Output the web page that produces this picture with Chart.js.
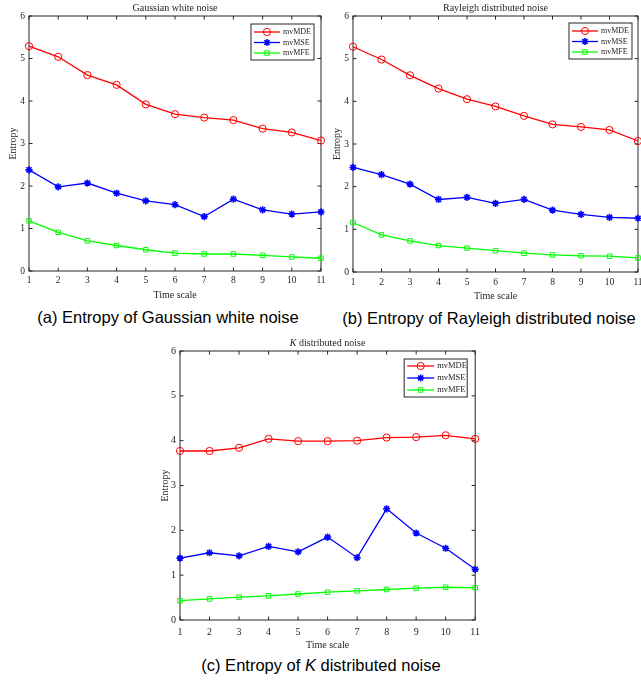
<!DOCTYPE html>
<html>
<head>
<meta charset="utf-8">
<script src="https://cdn.jsdelivr.net/npm/chart.js@4.4.1/dist/chart.umd.min.js"></script>
<style>
  body { margin: 0; background: #fff; width: 641px; height: 681px; overflow: hidden; position: relative; }
  canvas { position: absolute; }
  .caption {
    position: absolute; width: 400px; text-align: center; white-space: nowrap;
    font-family: "Liberation Sans", Arial, Helvetica, sans-serif; font-size: 16.5px; line-height: 20px; color: #000;
  }
</style>
</head>
<body>
<canvas id="gauss" width="330" height="302" style="left:0;top:0"></canvas>
<canvas id="rayleigh" width="330" height="302" style="left:324px;top:0"></canvas>
<canvas id="kdist" width="336" height="316" style="left:150px;top:335px"></canvas>
<div class="caption" style="left:-32px;top:307px">(a) Entropy of Gaussian white noise</div>
<div class="caption" style="left:289px;top:308px">(b) Entropy of Rayleigh distributed noise</div>
<div class="caption" style="left:121px;top:655px">(c) Entropy of <i>K</i> distributed noise</div>
<script>
const timeScale = ['1', '2', '3', '4', '5', '6', '7', '8', '9', '10', '11']
const seriesNames = ['mvMDE', 'mvMSE', 'mvMFE']

const gaussMDE = [5.29, 5.04, 4.61, 4.38, 3.92, 3.69, 3.61, 3.55, 3.35, 3.26, 3.07]
const gaussMSE = [2.38, 1.98, 2.07, 1.83, 1.65, 1.56, 1.28, 1.69, 1.44, 1.34, 1.39]
const gaussMFE = [1.18, 0.91, 0.71, 0.60, 0.50, 0.42, 0.40, 0.40, 0.37, 0.33, 0.30]

const rayMDE = [5.28, 4.98, 4.61, 4.30, 4.05, 3.88, 3.66, 3.46, 3.40, 3.33, 3.07]
const rayMSE = [2.45, 2.28, 2.06, 1.70, 1.75, 1.61, 1.70, 1.45, 1.35, 1.28, 1.26]
const rayMFE = [1.16, 0.87, 0.73, 0.62, 0.56, 0.50, 0.44, 0.40, 0.38, 0.37, 0.33]

const kMDE = [3.77, 3.77, 3.84, 4.04, 3.99, 3.99, 4.00, 4.07, 4.08, 4.12, 4.04]
const kMSE = [1.38, 1.50, 1.43, 1.64, 1.52, 1.85, 1.39, 2.48, 1.94, 1.60, 1.13]
const kMFE = [0.43, 0.47, 0.51, 0.54, 0.58, 0.62, 0.65, 0.68, 0.71, 0.73, 0.72]

const yMin = 0
const yMax = 6

const serif = '"Liberation Serif", "Times New Roman", serif'
const ink = '#262626'
const lineColors = ['#ff0000', '#0000ff', '#00ff00']
const markers = ['circle', 'star', 'rect']
const markerSize = [3.6, 3.6, 3.2]

// matlab style box: frame on all four sides, ticks pointing inwards
const axisBox = {
  id: 'axisBox',
  beforeDatasetsDraw(chart) {
    const {ctx, chartArea: a, scales: {x, y}} = chart
    const len = 3.5
    ctx.save()
    ctx.strokeStyle = ink
    ctx.lineWidth = 1
    ctx.strokeRect(a.left, a.top, a.right - a.left, a.bottom - a.top)
    ctx.beginPath()
    x.ticks.forEach((t, i) => {
      const px = x.getPixelForTick(i)
      ctx.moveTo(px, a.bottom); ctx.lineTo(px, a.bottom - len)
      ctx.moveTo(px, a.top); ctx.lineTo(px, a.top + len)
    })
    y.ticks.forEach((t, i) => {
      const py = y.getPixelForTick(i)
      ctx.moveTo(a.left, py); ctx.lineTo(a.left + len, py)
      ctx.moveTo(a.right, py); ctx.lineTo(a.right - len, py)
    })
    ctx.stroke()
    ctx.restore()
  }
}

// title above the axes, pieces can be italic
const panelTitle = {
  id: 'panelTitle',
  afterDraw(chart, args, opts) {
    const {ctx, chartArea: a} = chart
    ctx.save()
    ctx.fillStyle = ink
    ctx.textBaseline = 'middle'
    const fonts = opts.parts.map(p => (p.italic ? 'italic ' : '') + opts.size + 'px ' + serif)
    let total = 0
    const widths = opts.parts.map((p, i) => {
      ctx.font = fonts[i]
      const w = ctx.measureText(p.text).width
      total += w
      return w
    })
    let x = (a.left + a.right) / 2 - total / 2
    opts.parts.forEach((p, i) => {
      ctx.font = fonts[i]
      ctx.fillText(p.text, x, opts.y)
      x += widths[i]
    })
    ctx.restore()
  }
}

// boxed legend in the upper right corner of the axes
const boxLegend = {
  id: 'boxLegend',
  afterDraw(chart, args, o) {
    const {ctx, chartArea: a} = chart
    const left = a.right - o.dx - o.w
    const top = a.top + o.dy
    ctx.save()
    ctx.fillStyle = '#fff'
    ctx.fillRect(left, top, o.w, o.h)
    ctx.strokeStyle = ink
    ctx.lineWidth = 1
    ctx.strokeRect(left, top, o.w, o.h)
    ctx.font = o.font + 'px ' + serif
    ctx.textBaseline = 'middle'
    chart.data.datasets.forEach((ds, i) => {
      const ry = top + o.first + i * o.row
      ctx.strokeStyle = ds.borderColor
      ctx.lineWidth = ds.borderWidth
      ctx.beginPath()
      ctx.moveTo(left + o.line0, ry)
      ctx.lineTo(left + o.line1, ry)
      ctx.stroke()
      ctx.fillStyle = ds.pointBackgroundColor
      ctx.strokeStyle = ds.borderColor
      ctx.lineWidth = ds.pointBorderWidth
      Chart.helpers.drawPoint(ctx, {
        pointStyle: ds.pointStyle, radius: ds.pointRadius, rotation: 0, borderWidth: ds.pointBorderWidth
      }, left + (o.line0 + o.line1) / 2, ry)
      ctx.fillStyle = ink
      ctx.fillText(ds.label, left + o.text, ry)
    })
    ctx.restore()
  }
}

function drawPanel(id, titleParts, series, p) {
  const tickFont = {family: serif, size: p.tickSize}
  const titleFont = {family: serif, size: 10}
  new Chart(document.getElementById(id), {
    type: 'line',
    data: {
      labels: timeScale,
      datasets: series.map((vals, i) => ({
        label: seriesNames[i],
        data: vals,
        borderColor: lineColors[i],
        borderWidth: 1.3,
        pointStyle: markers[i],
        pointRadius: markerSize[i],
        pointBorderWidth: i === 1 ? 1.6 : 1,
        pointBackgroundColor: i === 1 ? lineColors[i] : 'rgba(0,0,0,0)',
        pointBorderColor: lineColors[i],
        tension: 0,
        clip: false
      }))
    },
    options: {
      responsive: false,
      animation: false,
      layout: {padding: {top: 16, left: 0, right: p.right, bottom: 0}},
      plugins: {
        legend: {display: false},
        tooltip: {enabled: false},
        panelTitle: {parts: titleParts, size: 10, y: 8},
        boxLegend: p.legend
      },
      scales: {
        x: {
          grid: {display: false, drawTicks: false},
          border: {display: false},
          ticks: {font: tickFont, color: ink, padding: p.xPad, maxRotation: 0, autoSkip: false},
          title: {display: true, text: 'Time scale', font: titleFont, color: ink, padding: {top: 0, bottom: p.xTitlePad}},
          afterFit: s => { s.height = p.xH }
        },
        y: {
          min: yMin,
          max: yMax,
          grid: {display: false, drawTicks: false},
          border: {display: false},
          ticks: {stepSize: 1, font: tickFont, color: ink, padding: p.yPad},
          title: {display: true, text: 'Entropy', font: titleFont, color: ink, padding: {top: p.yTitlePad, bottom: 0}},
          afterFit: s => { s.width = p.yW }
        }
      }
    },
    plugins: [axisBox, panelTitle, boxLegend]
  })
}

drawPanel('gauss', [{text: 'Gaussian white noise'}], [gaussMDE, gaussMSE, gaussMFE], {
  right: 9, yW: 29, xH: 31, xPad: 4, yPad: 4, xTitlePad: 1, yTitlePad: 7, tickSize: 9.5,
  legend: {w: 63, h: 36, dx: 7, dy: 8, first: 8, row: 10.5, line0: 3, line1: 29, text: 32, font: 8}
})

drawPanel('rayleigh', [{text: 'Rayleigh distributed noise'}], [rayMDE, rayMSE, rayMFE], {
  right: 16, yW: 29, xH: 30, xPad: 5, yPad: 4, xTitlePad: 0, yTitlePad: 7, tickSize: 9.5,
  legend: {w: 63, h: 36, dx: 6, dy: 7, first: 8, row: 10.5, line0: 3, line1: 29, text: 32, font: 8}
})

drawPanel('kdist', [{text: 'K', italic: true}, {text: ' distributed noise'}], [kMDE, kMSE, kMFE], {
  right: 10, yW: 30, xH: 31, xPad: 6, yPad: 4, xTitlePad: 0, yTitlePad: 9, tickSize: 10,
  legend: {w: 63, h: 38, dx: 8, dy: 8, first: 7, row: 12, line0: 3, line1: 30, text: 33, font: 8.5}
})
</script>
</body>
</html>
